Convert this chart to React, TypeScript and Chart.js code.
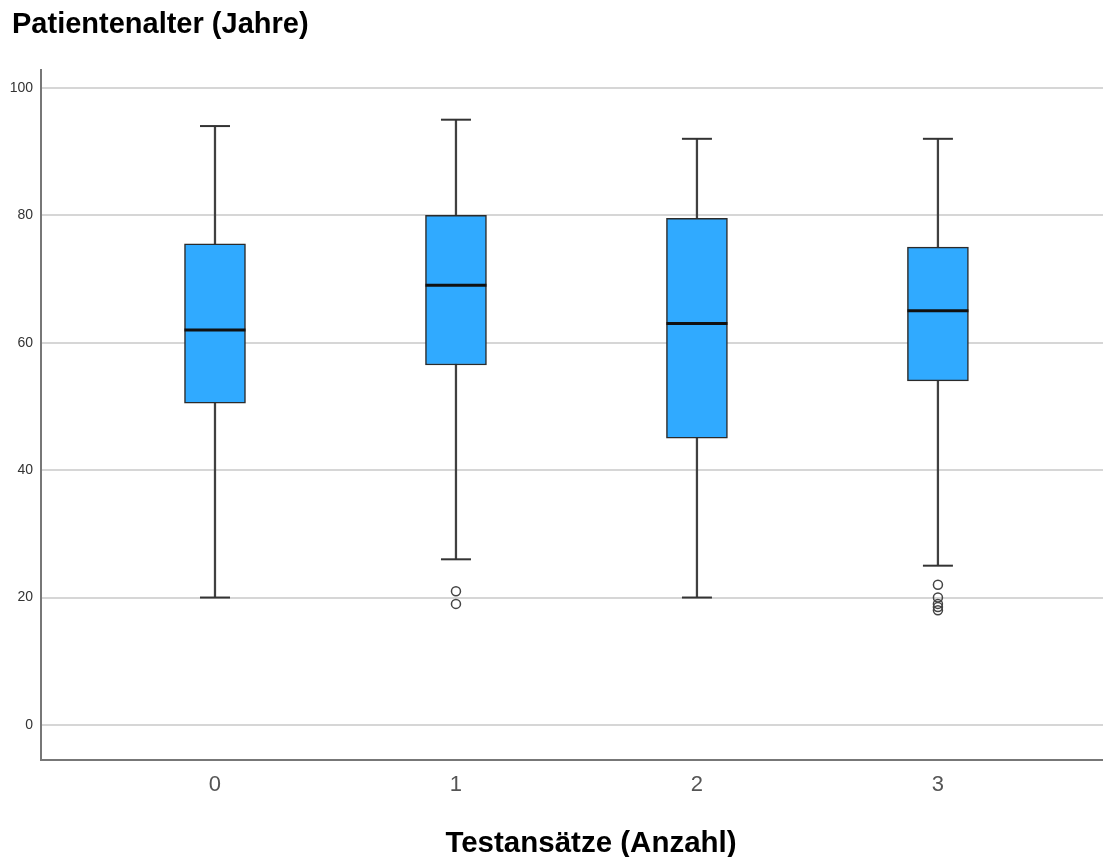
import React, { useEffect, useRef } from "react";
import { Chart, registerables } from "chart.js";

Chart.register(...registerables);

// Number of test runs per patient (x categories)
const categories = ["0", "1", "2", "3"];

// Five-number summaries of patient age per category
const whiskerLow = [20, 26, 20, 25];
const quartile1 = [50.5, 56.5, 45, 54];
const medians = [62, 69, 63, 65];
const quartile3 = [75.5, 80, 79.5, 75];
const whiskerHigh = [94, 95, 92, 92];

// Outlying ages (category index, age)
const outlierCategory = [1, 1, 3, 3, 3, 3, 3];
const outlierAge = [21, 19, 22, 20, 19, 18.5, 18];

// Value axis ticks
const yTicks = [0, 20, 40, 60, 80, 100];

const FONT = "'Liberation Sans', Arial, sans-serif";

export default function App() {
  const canvasRef = useRef<HTMLCanvasElement | null>(null);

  useEffect(() => {
    const canvas = canvasRef.current;
    if (!canvas) return;

    const idx = categories.map((_, i) => i);

    const chart = new Chart(canvas, {
      type: "bar",
      data: {
        datasets: [
          {
            type: "scatter",
            label: "median",
            data: idx.map((i) => ({ x: i, y: medians[i] })),
            pointStyle: "line",
            pointRadius: 30.5,
            pointHoverRadius: 30.5,
            borderColor: "#111111",
            borderWidth: 3,
            order: 0,
          } as any,
          {
            type: "scatter",
            label: "outliers",
            data: outlierAge.map((v, k) => ({ x: outlierCategory[k], y: v })),
            pointStyle: "circle",
            pointRadius: 4.5,
            pointHoverRadius: 4.5,
            backgroundColor: "rgba(255,255,255,0)",
            borderColor: "#444444",
            borderWidth: 1.5,
            order: 0,
          } as any,
          {
            type: "scatter",
            label: "caps",
            data: [
              ...idx.map((i) => ({ x: i, y: whiskerHigh[i] })),
              ...idx.map((i) => ({ x: i, y: whiskerLow[i] })),
            ],
            pointStyle: "line",
            pointRadius: 15,
            pointHoverRadius: 15,
            borderColor: "#333333",
            borderWidth: 2,
            order: 1,
          } as any,
          {
            type: "bar",
            label: "box",
            data: idx.map((i) => ({ x: i, y: [quartile1[i], quartile3[i]] })),
            backgroundColor: "#30aaff",
            borderColor: "#2b2b2b",
            borderWidth: 1.5,
            borderSkipped: false,
            barThickness: 61,
            grouped: false,
            order: 2,
          } as any,
          {
            type: "bar",
            label: "whisker",
            data: idx.map((i) => ({ x: i, y: [whiskerLow[i], whiskerHigh[i]] })),
            backgroundColor: "#404040",
            borderWidth: 0,
            barThickness: 1.6,
            grouped: false,
            order: 3,
          } as any,
        ],
      },
      options: {
        responsive: false,
        animation: false,
        events: [],
        layout: { autoPadding: false, padding: { top: 70, right: 0, bottom: 0, left: 0 } },
        plugins: {
          legend: { display: false },
          tooltip: { enabled: false },
          title: { display: false },
        },
        scales: {
          x: {
            type: "linear",
            offset: false,
            min: -0.722,
            max: 3.685,
            afterFit: (s: any) => {
              s.height = 97;
            },
            afterBuildTicks: (s: any) => {
              s.ticks = idx.map((i) => ({ value: i }));
            },
            ticks: {
              callback: (v: any) => categories[Number(v)] ?? "",
              font: { family: "'Liberation Sans Narrow', " + FONT, size: 22 },
              color: "#555555",
              padding: 12,
              maxRotation: 0,
              autoSkip: false,
            },
            grid: { display: false, drawTicks: false },
            border: { display: true, color: "#777777", width: 2 },
          },
          y: {
            type: "linear",
            min: -5.5,
            max: 102.8,
            afterFit: (s: any) => {
              s.width = 41;
            },
            afterBuildTicks: (s: any) => {
              s.ticks = yTicks.map((v) => ({ value: v }));
            },
            ticks: {
              font: { family: FONT, size: 14 },
              color: "#333333",
              padding: 8,
            },
            grid: { color: "#d6d6d6", lineWidth: 2, drawTicks: false },
            border: { display: true, color: "#777777", width: 2 },
          },
        },
      },
    });

    return () => chart.destroy();
  }, []);

  return (
    <div
      style={{
        position: "absolute",
        left: 0,
        top: 0,
        width: 1103,
        height: 857,
        background: "#ffffff",
        overflow: "hidden",
      }}
    >
      <canvas
        ref={canvasRef}
        width={1103}
        height={857}
        style={{ position: "absolute", left: 0, top: 0, width: 1103, height: 857 }}
      />
      <div
        style={{
          position: "absolute",
          left: 12,
          top: 9,
          font: `bold 29px ${FONT}`,
          lineHeight: "29px",
          color: "#000000",
          whiteSpace: "nowrap",
        }}
      >
        Patientenalter (Jahre)
      </div>
      <div
        style={{
          position: "absolute",
          left: 591,
          top: 827,
          transform: "translateX(-50%)",
          font: `bold 29.5px ${FONT}`,
          lineHeight: "29px",
          color: "#000000",
          whiteSpace: "nowrap",
        }}
      >
        Testansätze (Anzahl)
      </div>
    </div>
  );
}
